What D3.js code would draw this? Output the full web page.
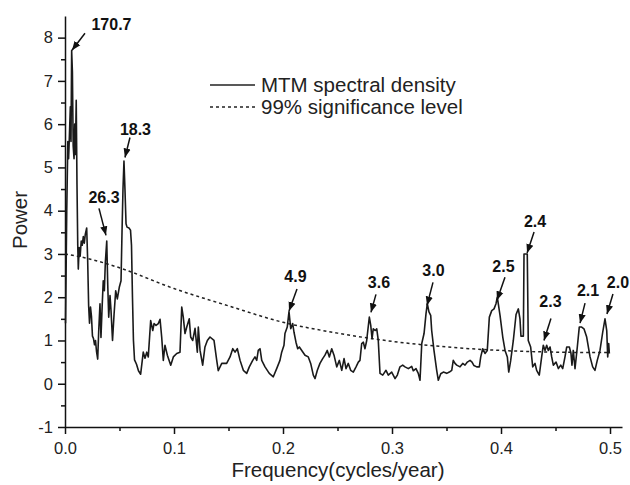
<!DOCTYPE html>
<html>
<head>
<meta charset="utf-8">
<script src="https://cdn.jsdelivr.net/npm/d3@7"></script>
<style>
  body { margin: 0; background: #fff; }
  svg { font-family: "Liberation Sans", Arial, sans-serif; }
  .axis path, .axis line { stroke: #111; stroke-width: 1.5; }
  .axis text { font-size: 16.5px; fill: #222; }
</style>
</head>
<body>
<svg width="630" height="485"></svg>
<script>
// MTM spectrum
var freq = [0.0005,0.0016,0.0026,0.0033,0.0040,0.0049,0.0055,0.0061,0.0068,0.0075,0.0083,0.0089,0.0095,0.0103,0.0110,0.0117,
  0.0122,0.0130,0.0139,0.0149,0.0158,0.0168,0.0177,0.0186,0.0199,0.0208,0.0217,0.0225,0.0234,0.0243,0.0252,0.0261,0.0271,
  0.0280,0.0289,0.0300,0.0309,0.0321,0.0330,0.0341,0.0351,0.0361,0.0370,0.0383,0.0392,0.0401,0.0413,0.0422,0.0436,0.0450,
  0.0465,0.0480,0.0498,0.0514,0.0523,0.0532,0.0541,0.0550,0.0560,0.0569,0.0587,0.0601,0.0610,0.0619,0.0628,0.0638,0.0656,
  0.0674,0.0694,0.0718,0.0734,0.0750,0.0764,0.0786,0.0805,0.0817,0.0835,0.0856,0.0872,0.0887,0.0902,0.0917,0.0939,0.0970,
  0.0994,0.1025,0.1055,0.1071,0.1085,0.1101,0.1117,0.1140,0.1153,0.1172,0.1193,0.1214,0.1223,0.1239,0.1263,0.1284,0.1306,
  0.1330,0.1367,0.1392,0.1406,0.1438,0.1483,0.1514,0.1539,0.1560,0.1581,0.1606,0.1636,0.1667,0.1691,0.1722,0.1743,0.1759,
  0.1773,0.1789,0.1805,0.1835,0.1874,0.1911,0.1942,0.1972,0.1988,0.2009,0.2018,0.2039,0.2055,0.2071,0.2089,0.2101,0.2119,
  0.2135,0.2150,0.2172,0.2202,0.2232,0.2254,0.2278,0.2294,0.2315,0.2339,0.2364,0.2385,0.2406,0.2425,0.2447,0.2468,0.2493,
  0.2517,0.2539,0.2560,0.2578,0.2599,0.2621,0.2645,0.2670,0.2691,0.2706,0.2722,0.2737,0.2752,0.2768,0.2773,0.2792,0.2805,
  0.2817,0.2828,0.2847,0.2860,0.2874,0.2890,0.2915,0.2945,0.2966,0.2997,0.3028,0.3049,0.3073,0.3098,0.3119,0.3150,0.3181,
  0.3195,0.3220,0.3241,0.3257,0.3273,0.3294,0.3312,0.3324,0.3339,0.3355,0.3364,0.3385,0.3410,0.3425,0.3447,0.3471,0.3502,
  0.3526,0.3548,0.3562,0.3578,0.3594,0.3624,0.3649,0.3670,0.3691,0.3716,0.3734,0.3752,0.3777,0.3801,0.3814,0.3832,0.3853,
  0.3874,0.3893,0.3915,0.3936,0.3954,0.3966,0.3975,0.3991,0.4016,0.4037,0.4058,0.4071,0.4089,0.4113,0.4138,0.4159,0.4174,
  0.4183,0.4205,0.4211,0.4241,0.4250,0.4272,0.4291,0.4312,0.4327,0.4351,0.4373,0.4388,0.4404,0.4419,0.4434,0.4450,0.4465,
  0.4480,0.4505,0.4526,0.4548,0.4566,0.4587,0.4603,0.4627,0.4642,0.4651,0.4663,0.4679,0.4700,0.4718,0.4740,0.4761,0.4786,
  0.4817,0.4841,0.4862,0.4883,0.4908,0.4933,0.4954,0.4970,0.4979,0.4988,0.4994];
var power = [1.4,4.0,5.6,5.2,5.7,6.4,5.6,7.7,7.2,5.5,5.2,6.0,5.3,6.55,4.6,3.2,
  2.65,3.15,2.95,3.3,3.2,3.4,3.25,3.45,3.6,2.85,1.8,1.4,1.77,1.55,1.1,1.05,0.9,
  1.0,0.75,0.57,1.2,1.85,1.07,1.8,2.38,2.15,2.8,3.3,2.3,1.54,2.04,1.7,1.0,1.6,
  2.15,1.96,2.23,2.38,3.5,4.5,5.15,4.5,3.7,3.62,3.6,3.55,3.2,2.0,1.0,0.55,0.45,
  0.3,0.22,0.73,0.59,0.73,0.62,1.46,1.23,1.39,1.35,1.39,1.49,1.08,0.54,0.89,0.66,0.43,
  0.62,0.7,0.73,1.77,1.54,1.16,1.31,1.5,1.08,1.0,1.28,0.73,1.31,0.77,0.43,0.85,1.0,
  1.08,1.0,0.54,0.3,0.47,0.47,0.62,0.81,0.73,0.81,0.54,0.31,0.24,0.39,0.54,0.62,0.54,
  0.77,0.81,0.54,0.39,0.24,0.16,0.35,0.54,0.73,0.89,1.16,1.31,1.67,1.27,1.39,1.19,0.96,
  0.81,0.85,0.77,0.66,0.62,0.47,0.2,0.12,0.31,0.47,0.58,0.66,0.77,0.62,0.81,0.66,0.39,
  0.54,0.31,0.58,0.35,0.47,0.31,0.27,0.39,0.5,0.54,0.93,0.96,0.81,1.0,1.12,1.54,1.35,
  1.04,1.27,1.23,1.27,1.0,0.24,0.2,0.31,0.2,0.27,0.12,0.2,0.39,0.43,0.39,0.35,0.4,
  0.3,0.35,0.24,0.08,0.93,1.16,1.62,1.85,1.66,1.58,1.23,0.77,0.31,0.08,0.23,0.27,0.24,
  0.27,0.31,0.54,0.47,0.43,0.39,0.47,0.43,0.5,0.54,0.5,0.42,0.39,0.39,0.62,0.81,0.7,
  0.77,1.54,1.69,1.73,1.85,2.0,1.85,1.58,1.08,0.77,0.62,0.27,0.54,1.0,1.6,1.73,1.5,
  1.1,1.1,3.0,3.0,1.0,0.85,0.39,0.47,0.31,0.2,0.62,0.89,0.77,0.89,0.77,0.85,0.62,
  0.43,0.5,0.35,0.43,0.35,0.62,0.85,0.85,0.7,0.43,0.77,0.35,0.85,1.31,1.31,1.27,1.08,
  0.62,0.39,0.31,0.54,0.77,1.19,1.5,1.23,0.62,0.93,0.7];

// 99% significance level
var sigFreq = [0, 0.02, 0.05, 0.1, 0.15, 0.2, 0.25, 0.3, 0.35, 0.4, 0.45, 0.5];
var sigPower = [3.0, 2.9, 2.68, 2.2, 1.8, 1.42, 1.17, 0.98, 0.85, 0.77, 0.73, 0.72];

// labelled peaks (period, years)
var peakLabels = ["170.7", "18.3", "26.3", "4.9", "3.6", "3.0", "2.5", "2.4", "2.3", "2.1", "2.0"];
var peakFreq = [0.0064, 0.055, 0.0376, 0.2055, 0.2807, 0.3321, 0.3963, 0.4239, 0.4394, 0.4725, 0.4972];
var peakPower = [7.71, 5.23, 3.43, 1.68, 1.65, 1.81, 1.93, 3.02, 1.0, 1.40, 1.61];
// arrow tail offset and label offset from the arrow tip, px
var tailOff = [[13,-17],[5,-20],[-7,-27],[8,-22],[5,-18],[6,-23],[8,-23],[7,-21],[7,-22],[5,-20],[6,-20]];
var textOff = [[39.5,-20],[10.5,-22],[-2,-32],[6.5,-29],[8,-24],[6.5,-29],[6.5,-28],[8,-26],[6.5,-33],[8,-27],[11,-26]];

var xTicks = [0, 0.1, 0.2, 0.3, 0.4, 0.5];
var yTicks = [-1, 0, 1, 2, 3, 4, 5, 6, 7, 8];
var legendNames = ["MTM spectral density", "99% significance level"];

var svg = d3.select("svg");

var x = d3.scaleLinear().domain([0, 0.511]).range([65, 622]);
var y = d3.scaleLinear().domain([-1, 8.5]).range([427, 16]);

// minor ticks
svg.append("g")
  .attr("class", "axis")
  .attr("transform", "translate(0,427)")
  .call(d3.axisBottom(x).tickValues([0.05, 0.15, 0.25, 0.35, 0.45]).tickSize(4).tickFormat(""))
  .select(".domain").remove();
svg.append("g")
  .attr("class", "axis")
  .attr("transform", "translate(65,0)")
  .call(d3.axisLeft(y).tickValues(d3.range(-0.5, 8.5, 1)).tickSize(4).tickFormat(""))
  .select(".domain").remove();

svg.append("g")
  .attr("class", "axis")
  .attr("transform", "translate(0,427)")
  .call(d3.axisBottom(x).tickValues(xTicks).tickSize(7).tickPadding(8).tickSizeOuter(0).tickFormat(d3.format(".1f")));

svg.append("g")
  .attr("class", "axis")
  .attr("transform", "translate(65,0)")
  .call(d3.axisLeft(y).tickValues(yTicks).tickSize(7).tickPadding(5).tickSizeOuter(0)
    .tickFormat(function (d) { return String(d); }));

svg.append("text")
  .attr("x", 338).attr("y", 477)
  .attr("text-anchor", "middle")
  .style("font-size", "20.5px").style("fill", "#222")
  .text("Frequency(cycles/year)");

svg.append("text")
  .attr("transform", "translate(27,220) rotate(-90)")
  .attr("text-anchor", "middle")
  .style("font-size", "20.5px").style("fill", "#222")
  .text("Power");

var spec = freq.map(function (f, i) { return [f, power[i]]; });
var sig = sigFreq.map(function (f, i) { return [f, sigPower[i]]; });

var line = d3.line()
  .x(function (d) { return x(d[0]); })
  .y(function (d) { return y(d[1]); });

svg.append("path")
  .datum(sig)
  .attr("fill", "none")
  .attr("stroke", "#222")
  .attr("stroke-width", 1.5)
  .attr("stroke-dasharray", "3,3")
  .attr("d", line.curve(d3.curveMonotoneX));

svg.append("path")
  .datum(spec)
  .attr("fill", "none")
  .attr("stroke", "#1a1a1a")
  .attr("stroke-width", 1.6)
  .attr("stroke-linejoin", "round")
  .attr("d", line.curve(d3.curveLinear));

// arrows
svg.append("defs").append("marker")
  .attr("id", "head")
  .attr("viewBox", "0 0 10 10")
  .attr("refX", 10).attr("refY", 5)
  .attr("markerWidth", 9).attr("markerHeight", 9)
  .attr("markerUnits", "userSpaceOnUse")
  .attr("orient", "auto")
  .append("path")
  .attr("d", "M0,1 L10,5 L0,9 Z")
  .attr("fill", "#111");

var ann = svg.append("g");
peakLabels.forEach(function (lab, i) {
  var tx = x(peakFreq[i]), ty = y(peakPower[i]);
  ann.append("line")
    .attr("x1", tx + tailOff[i][0]).attr("y1", ty + tailOff[i][1])
    .attr("x2", tx).attr("y2", ty)
    .attr("stroke", "#111").attr("stroke-width", 1.5)
    .attr("marker-end", "url(#head)");
  ann.append("text")
    .attr("x", tx + textOff[i][0]).attr("y", ty + textOff[i][1])
    .attr("text-anchor", "middle")
    .style("font-size", "16px").style("font-weight", "bold").style("fill", "#111")
    .text(lab);
});

// legend
var leg = svg.append("g").attr("transform", "translate(210,85)");
legendNames.forEach(function (name, i) {
  leg.append("line")
    .attr("x1", 0).attr("x2", 45)
    .attr("y1", i * 22).attr("y2", i * 22)
    .attr("stroke", "#222").attr("stroke-width", 1.5)
    .attr("stroke-dasharray", i === 1 ? "3,3" : null);
  leg.append("text")
    .attr("x", 51).attr("y", i * 22 + 7)
    .style("font-size", "20.5px").style("fill", "#222")
    .text(name);
});
</script>
</body>
</html>
